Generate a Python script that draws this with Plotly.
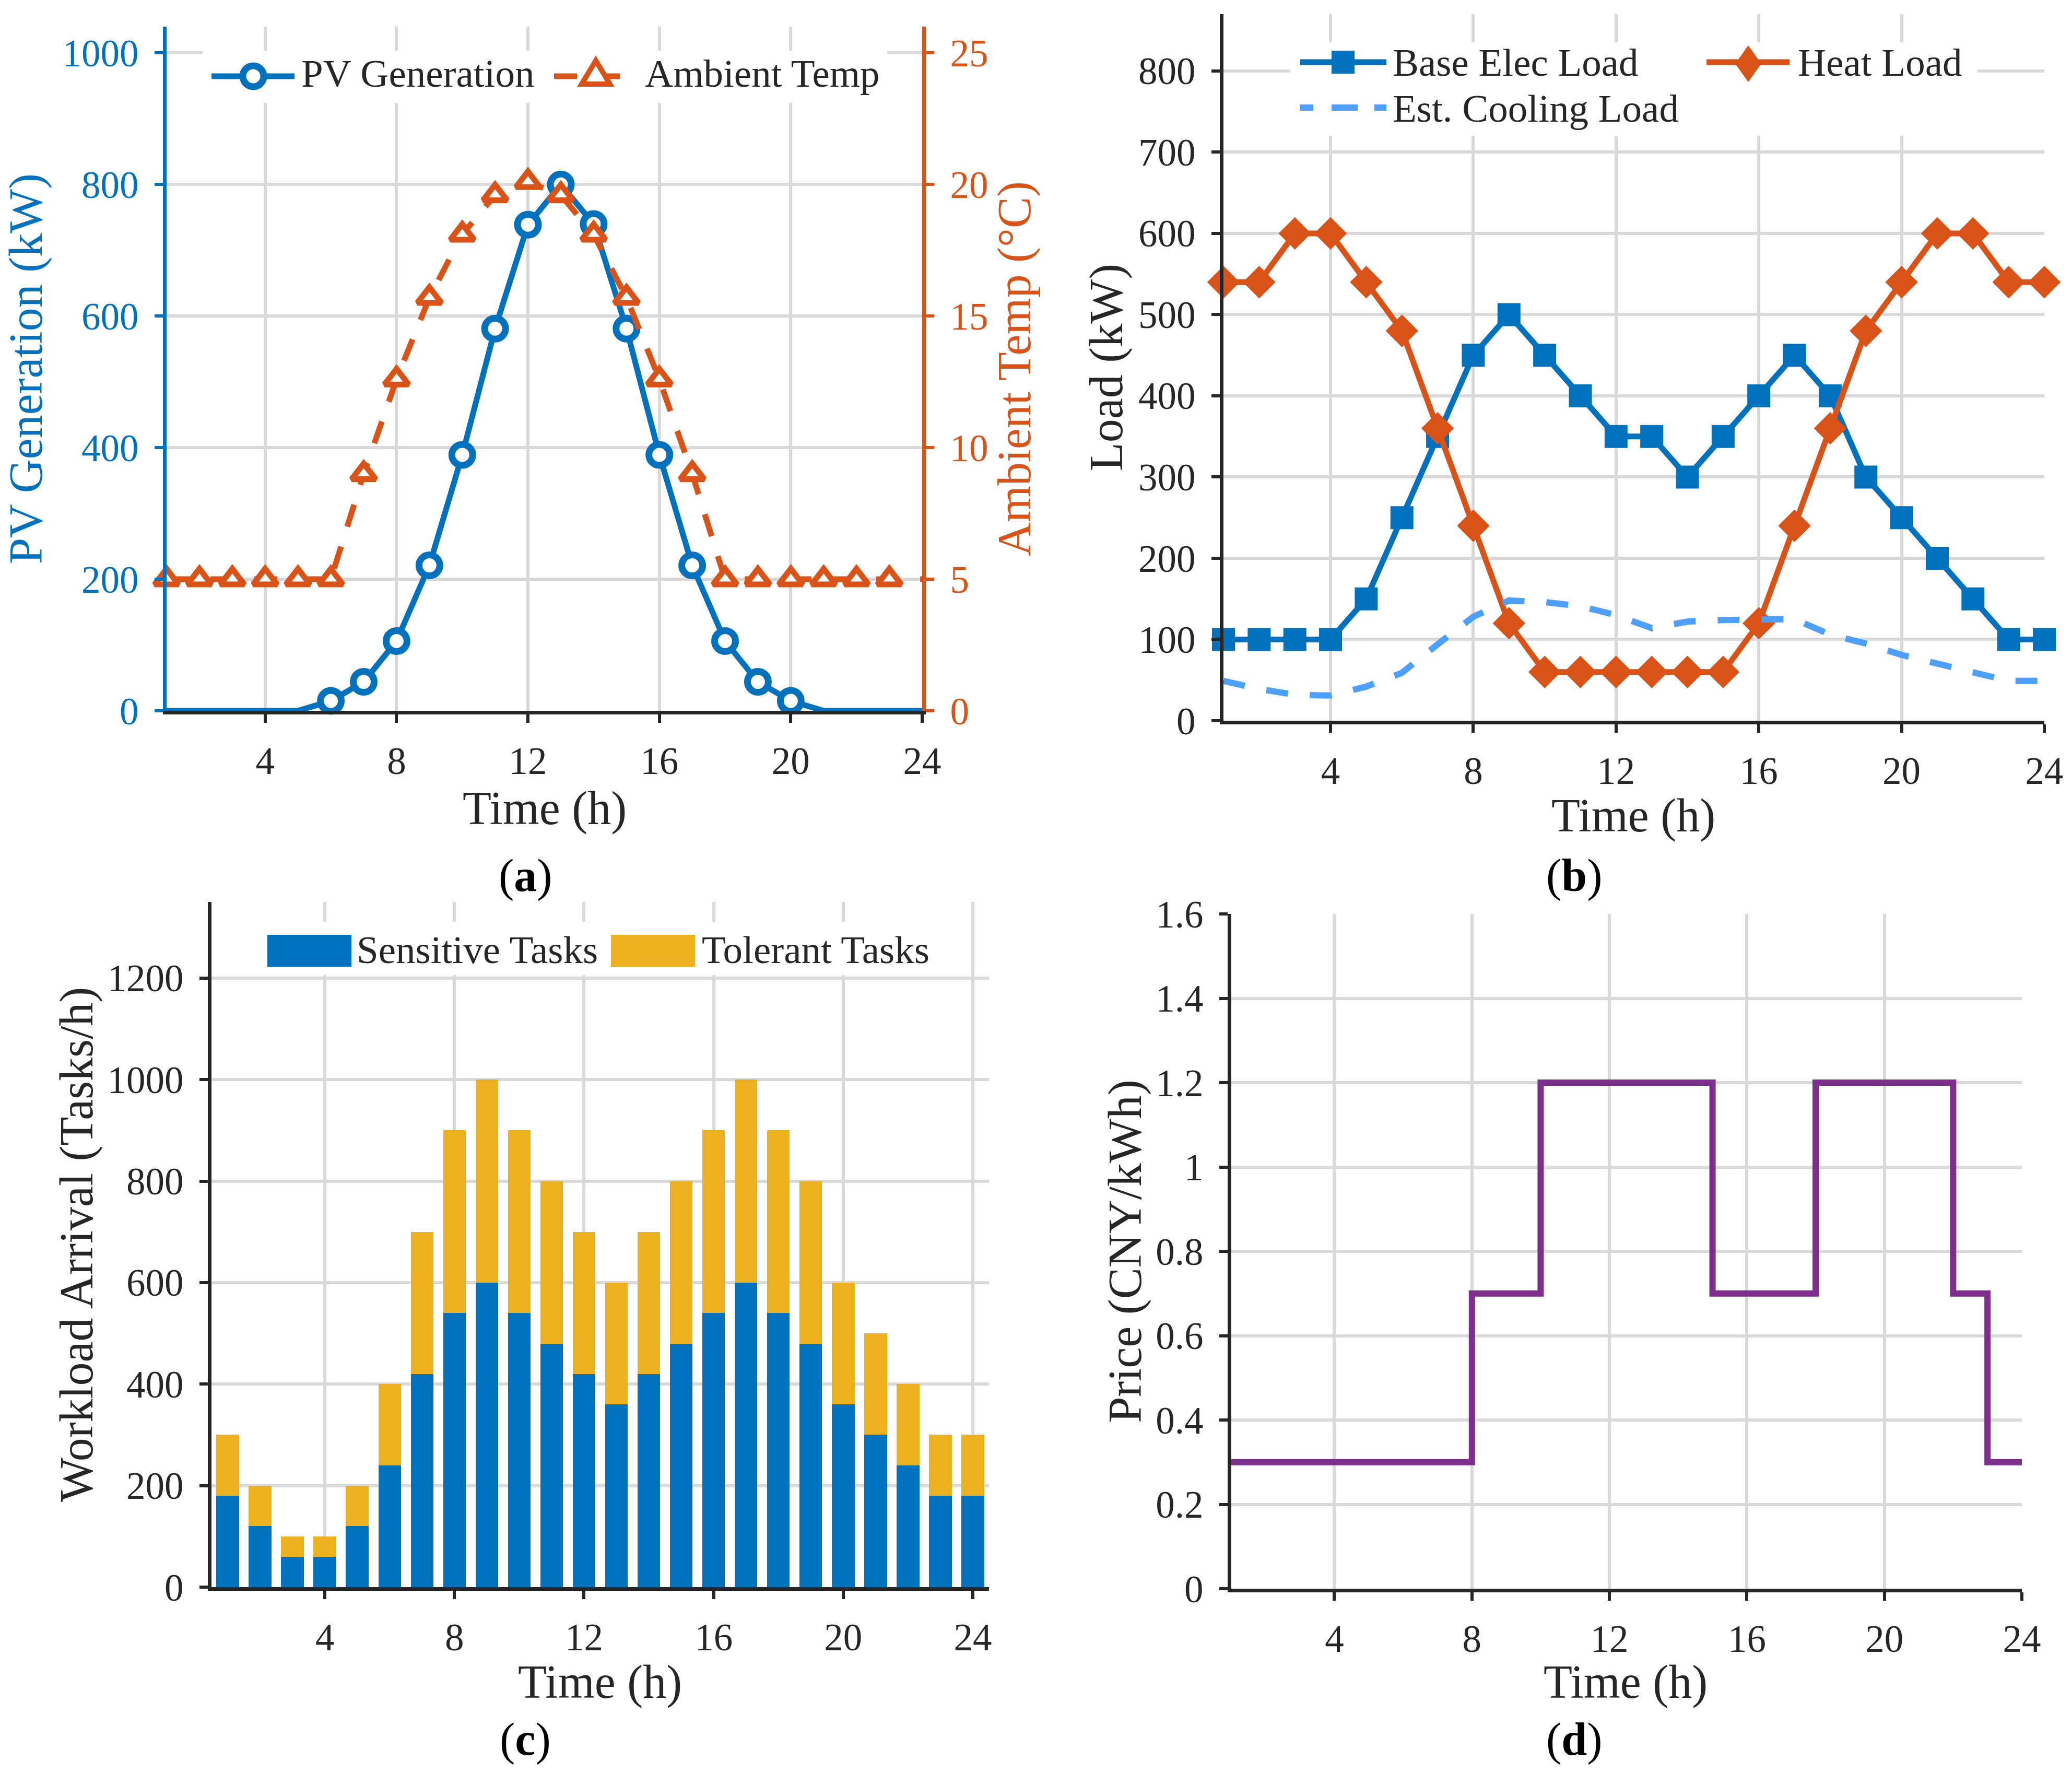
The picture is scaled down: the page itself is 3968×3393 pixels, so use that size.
import plotly.graph_objects as go

# hourly data, 1..24 h
hours = list(range(1, 25))

pv_kw = [0, 0, 0, 0, 0, 15, 44, 106, 221, 389, 581, 739, 800, 740, 581, 389, 221, 106, 44, 15, 0, 0, 0, 0]
temp_c = [5, 5, 5, 5, 5, 5, 9, 12.6, 15.7, 18.1, 19.6, 20.1, 19.6, 18.1, 15.7, 12.6, 9, 5, 5, 5, 5, 5, 5, 5]

base_load = [100, 100, 100, 100, 150, 250, 350, 450, 500, 450, 400, 350,
             350, 300, 350, 400, 450, 400, 300, 250, 200, 150, 100, 100]
heat_load = [540, 540, 600, 600, 540, 480, 360, 240, 120, 60, 60, 60,
             60, 60, 60, 120, 240, 360, 480, 540, 600, 600, 540, 540]
cool_load = [49, 39, 32, 31, 42, 59, 94, 128, 148, 146, 141, 130,
             114, 122, 124, 125, 125, 106, 95, 81, 70, 59, 49, 49]

sensitive = [180, 120, 60, 60, 120, 240, 420, 540, 600, 540, 480, 420,
             360, 420, 480, 540, 600, 540, 480, 360, 300, 240, 180, 180]
tolerant = [120, 80, 40, 40, 80, 160, 280, 360, 400, 360, 320, 280,
            240, 280, 320, 360, 400, 360, 320, 240, 200, 160, 120, 120]

price = [0.3, 0.3, 0.3, 0.3, 0.3, 0.3, 0.3, 0.7, 0.7, 1.2, 1.2, 1.2,
         1.2, 1.2, 0.7, 0.7, 0.7, 1.2, 1.2, 1.2, 1.2, 0.7, 0.3, 0.3]

hour_ticks = [4, 8, 12, 16, 20, 24]

BLUE = "#0072BD"
ORANGE = "#D95319"
YELLOW = "#EDB120"
PURPLE = "#7E2F8E"
LIGHTBLUE = "#4DA0FF"
DARK = "#262626"
GRID = "#D9D9D9"
FONT = "Liberation Serif, Times New Roman, serif"
TICK_SIZE = 73
TITLE_SIZE = 90

W, H = 3968, 3393


def px_x(p):
    return p / W


def px_y(p):
    return 1 - p / H


def xaxis(left, right, rng, anchor):
    return dict(
        domain=[px_x(left), px_x(right)], range=rng, anchor=anchor, automargin=False,
        tickvals=hour_ticks, ticks="outside", ticklen=16, tickwidth=6,
        tickcolor=DARK, showline=True, linewidth=7, linecolor=DARK,
        showgrid=True, gridcolor=GRID, gridwidth=6, zeroline=False,
        tickfont=dict(family=FONT, size=TICK_SIZE, color=DARK), ticklabelstandoff=10,
    )


def yaxis(top, bottom, rng, anchor, dtick, title, color=DARK, standoff=30):
    return dict(
        domain=[px_y(bottom), px_y(top)], range=rng, anchor=anchor, dtick=dtick,
        tick0=0, automargin=False, ticks="outside", ticklen=16, tickwidth=6, tickcolor=color,
        showline=True, linewidth=7, linecolor=color,
        showgrid=True, gridcolor=GRID, gridwidth=6, zeroline=False,
        tickfont=dict(family=FONT, size=TICK_SIZE, color=color), ticklabelstandoff=16,
        title=dict(text=title, font=dict(family=FONT, size=TITLE_SIZE, color=color), standoff=standoff),
    )


fig = go.Figure()

# (a) PV generation and ambient temperature
fig.add_trace(go.Scatter(
    x=hours, y=pv_kw, name="PV Generation", mode="lines+markers",
    line=dict(color=BLUE, width=11),
    marker=dict(symbol="circle", color="white", opacity=1,
                size=[40 if v > 0 else 0 for v in pv_kw], line=dict(color=BLUE, width=13)),
    xaxis="x", yaxis="y", cliponaxis=False,
))
fig.add_trace(go.Scatter(
    x=hours, y=temp_c, name="Ambient Temp", mode="lines+markers",
    line=dict(color=ORANGE, width=11, dash="44px,40px"),
    marker=dict(symbol="triangle-up", color="white", opacity=1,
                size=[40] * 23 + [0], line=dict(color=ORANGE, width=11)),
    xaxis="x", yaxis="y2", cliponaxis=False,
))

# (b) loads
fig.add_trace(go.Scatter(
    x=hours, y=base_load, name="Base Elec Load", mode="lines+markers",
    line=dict(color=BLUE, width=11), marker=dict(symbol="square", size=44, color=BLUE),
    xaxis="x2", yaxis="y3", cliponaxis=False,
))
fig.add_trace(go.Scatter(
    x=hours, y=heat_load, name="Heat Load", mode="lines+markers",
    line=dict(color=ORANGE, width=11), marker=dict(symbol="diamond", size=48, color=ORANGE),
    xaxis="x2", yaxis="y3", cliponaxis=False,
))
fig.add_trace(go.Scatter(
    x=hours, y=cool_load, name="Est. Cooling Load", mode="lines",
    line=dict(color=LIGHTBLUE, width=12, dash="42px,42px"),
    xaxis="x2", yaxis="y3",
))

# (c) workload arrivals
fig.add_trace(go.Bar(
    x=hours, y=sensitive, name="Sensitive Tasks", width=0.7,
    marker=dict(color=BLUE, line=dict(width=0)), xaxis="x3", yaxis="y4",
))
fig.add_trace(go.Bar(
    x=hours, y=tolerant, name="Tolerant Tasks", width=0.7,
    marker=dict(color=YELLOW, line=dict(width=0)), xaxis="x3", yaxis="y4",
))

# (d) electricity price
fig.add_trace(go.Scatter(
    x=hours, y=price, name="Price", mode="lines", line_shape="hv",
    line=dict(color=PURPLE, width=12), xaxis="x4", yaxis="y5",
))

# legends drawn as boxes/symbols at MATLAB-like size
shapes = []
notes = []


def box(x0, y0, x1, y1):
    shapes.append(dict(type="rect", xref="paper", yref="paper", layer="above",
                       x0=px_x(x0), x1=px_x(x1), y0=px_y(y1), y1=px_y(y0),
                       fillcolor="white", line=dict(width=0)))


def seg(x0, x1, y, color, width=11, dash="solid"):
    shapes.append(dict(type="line", xref="paper", yref="paper", layer="above",
                       x0=px_x(x0), x1=px_x(x1), y0=px_y(y), y1=px_y(y),
                       line=dict(color=color, width=width, dash=dash)))


def poly(points, color, fill, width=0):
    path = "M " + " L ".join(f"{px_x(x):.5f},{px_y(y):.5f}" for x, y in points) + " Z"
    shapes.append(dict(type="path", xref="paper", yref="paper", layer="above", path=path,
                       fillcolor=fill, line=dict(color=color, width=width)))


def ring(cx, cy, r, color, width):
    shapes.append(dict(type="circle", xref="paper", yref="paper", layer="above",
                       x0=px_x(cx - r), x1=px_x(cx + r), y0=px_y(cy + r), y1=px_y(cy - r),
                       fillcolor="white", line=dict(color=color, width=width)))


def text(x, y, s, size=75, anchor="left", bold=False):
    notes.append(dict(text=s, x=px_x(x), y=px_y(y), xref="paper", yref="paper",
                      xanchor=anchor, yanchor="middle", showarrow=False,
                      font=dict(family=FONT, size=size, color="black" if bold else DARK)))


# (a)
box(388, 97, 1699, 197)
seg(405, 564, 146, BLUE)
ring(485, 146, 20, BLUE, 13)
text(575, 141, "PV Generation")
seg(1061, 1105, 146, ORANGE)
seg(1160, 1187, 146, ORANGE)
poly([(1141, 116), (1168, 161), (1114, 161)], ORANGE, "white", 10)
text(1233, 141, "Ambient Temp")

# (b)
box(2471, 81, 3787, 260)
seg(2490, 2655, 119, BLUE)
poly([(2550, 97), (2594, 97), (2594, 141), (2550, 141)], BLUE, BLUE)
text(2665, 119, "Base Elec Load")
seg(3268, 3427, 119, ORANGE)
poly([(3348, 87), (3373, 122), (3348, 157), (3323, 122)], ORANGE, ORANGE)
text(3441, 119, "Heat Load")
seg(2490, 2515, 206, LIGHTBLUE, 12)
seg(2550, 2600, 206, LIGHTBLUE, 12)
seg(2632, 2655, 206, LIGHTBLUE, 12)
text(2665, 208, "Est. Cooling Load")

# (c)
box(495, 1765, 1800, 1867)
poly([(512, 1790), (673, 1790), (673, 1851), (512, 1851)], BLUE, BLUE)
text(681, 1818, "Sensitive Tasks")
poly([(1170, 1790), (1331, 1790), (1331, 1851), (1170, 1851)], YELLOW, YELLOW)
text(1342, 1818, "Tolerant Tasks")

# x-axis titles
for cx, cy in [(1043, 1548), (3128, 1562), (1149, 3221), (3113, 3221)]:
    text(cx, cy, "Time (h)", size=TITLE_SIZE, anchor="center")

# panel tags
for tag, cx, cy in [("a", 1006, 1676), ("b", 3015, 1676), ("c", 1006, 3330), ("d", 3015, 3330)]:
    text(cx, cy, f"(<b>{tag}</b>)", size=88, anchor="center", bold=True)

y2 = yaxis(51, 1361, [0, 26], "x", 5, "Ambient Temp (°C)", ORANGE, standoff=10)
y2.update(overlaying="y", side="right", showgrid=False)
y2.pop("domain")

fig.update_layout(
    width=W, height=H, margin=dict(l=0, r=0, t=0, b=0, autoexpand=False),
    paper_bgcolor="white", plot_bgcolor="white", barmode="stack", showlegend=False,
    font=dict(family=FONT, color=DARK),
    xaxis=xaxis(319, 1766, [1, 24], "y"),
    yaxis=yaxis(51, 1361, [0, 1040], "x", 200, "PV Generation (kW)", BLUE, standoff=18),
    yaxis2=y2,
    xaxis2=xaxis(2343, 3915, [1, 24], "y3"),
    yaxis3=yaxis(27, 1380, [0, 870], "x2", 100, "Load (kW)", standoff=3),
    xaxis3=xaxis(405, 1894, [0.5, 24.5], "y4"),
    yaxis4=yaxis(1727, 3039, [0, 1350], "x3", 200, "Workload Arrival (Tasks/h)", standoff=0),
    xaxis4=xaxis(2358, 3872, [1, 24], "y5"),
    yaxis5=yaxis(1750, 3042, [0, 1.6], "x4", 0.2, "Price (CNY/kWh)", standoff=0),
    shapes=shapes,
    annotations=notes,
)

# page margin off so the figure sits at the window's top-left corner
fig.write_html(
    "out.html", config={"displayModeBar": False},
    post_script="document.body.style.margin='0';document.body.style.overflow='hidden';",
)
